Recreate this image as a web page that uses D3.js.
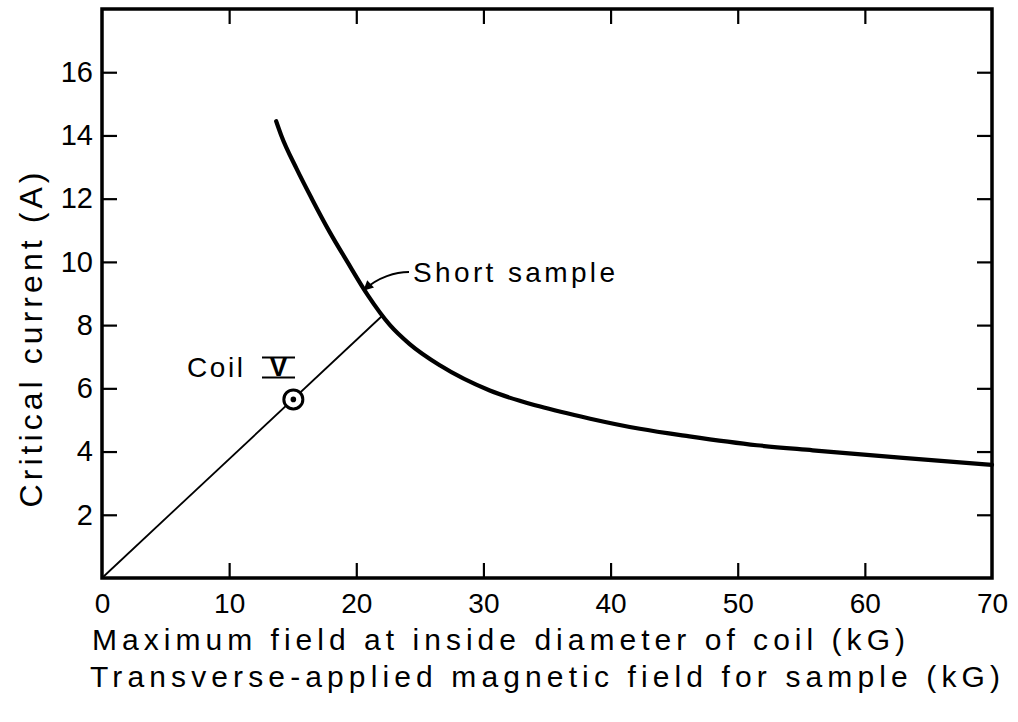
<!DOCTYPE html>
<html>
<head>
<meta charset="utf-8">
<script src="https://cdn.jsdelivr.net/npm/d3@7"></script>
<style>
  html, body { margin: 0; padding: 0; background: #fff; }
  svg { display: block; }
  text { font-family: "Liberation Sans", "DejaVu Sans", sans-serif; fill: #000; }
</style>
</head>
<body>
<svg id="chart" width="1018" height="722"></svg>
<script>
// ---- data ----
const shortSampleField   = [13.7, 14.1, 15.3, 16.5, 17.9, 19.3, 20.9, 22.65, 24.2, 26.6, 30.5, 34.4, 38.4, 42.3, 46.2, 51.5, 55.9, 63.0, 70.0];
const shortSampleCurrent = [14.45, 14.0, 12.95, 12.0, 10.95, 10.0, 8.95, 8.0, 7.4, 6.72, 5.93, 5.43, 5.04, 4.72, 4.48, 4.2, 4.04, 3.8, 3.58];
const loadLineField   = [0, 22.0];
const loadLineCurrent = [0, 8.28];
const coilPointField = [15.05];
const coilPointCurrent = [5.65];
const xTickLabels = [0, 10, 20, 30, 40, 50, 60, 70];
const xTickMarks  = [10, 20, 30, 40, 50, 60];
const yTickLabels = [2, 4, 6, 8, 10, 12, 14, 16];
const xTitle1 = "Maximum field at inside diameter of coil (kG)";
const xTitle2 = "Transverse-applied magnetic field for sample (kG)";
const yTitle = "Critical current (A)";

// ---- layout ----
const L = 102, R = 992, T = 9, B = 578;
const svg = d3.select("#chart");
const x = d3.scaleLinear().domain([0, 70]).range([L, R]);
const y = d3.scaleLinear().domain([0, 18]).range([B, T]);

// ticks (inward) on all four sides
const tickLen = 15;
function styleTicks(g) {
  g.select(".domain").remove();
  g.selectAll(".tick line").attr("stroke", "#000").attr("stroke-width", 2.2);
}
svg.append("g").attr("transform", `translate(0,${B})`)
  .call(d3.axisBottom(x).tickValues(xTickMarks).tickSize(-tickLen).tickFormat(""))
  .call(styleTicks);
svg.append("g").attr("transform", `translate(0,${T})`)
  .call(d3.axisTop(x).tickValues(xTickMarks).tickSize(-tickLen).tickFormat(""))
  .call(styleTicks);
svg.append("g").attr("transform", `translate(${L},0)`)
  .call(d3.axisLeft(y).tickValues(yTickLabels).tickSize(-tickLen).tickFormat(""))
  .call(styleTicks);
svg.append("g").attr("transform", `translate(${R},0)`)
  .call(d3.axisRight(y).tickValues(yTickLabels).tickSize(-tickLen).tickFormat(""))
  .call(styleTicks);

// tick labels
const xl = svg.append("g").attr("transform", `translate(0,${B})`)
  .call(d3.axisBottom(x).tickValues(xTickLabels).tickSize(0).tickPadding(0).tickFormat(d3.format("d")));
xl.select(".domain").remove();
xl.selectAll("text").attr("y", 35).attr("dy", 0)
  .style("font-size", "28px").style("font-family", "Liberation Sans, DejaVu Sans, sans-serif");

const yl = svg.append("g").attr("transform", `translate(${L},0)`)
  .call(d3.axisLeft(y).tickValues(yTickLabels).tickSize(0).tickPadding(9).tickFormat(d3.format("d")));
yl.select(".domain").remove();
yl.selectAll("text").style("font-size", "29px").style("font-family", "Liberation Sans, DejaVu Sans, sans-serif");

// frame
svg.append("rect")
  .attr("x", L).attr("y", T).attr("width", R - L).attr("height", B - T)
  .attr("fill", "none").attr("stroke", "#000").attr("stroke-width", 3.5);

// load line
const line = d3.line().x(d => x(d[0])).y(d => y(d[1]));
svg.append("path")
  .datum(d3.zip(loadLineField, loadLineCurrent))
  .attr("d", line).attr("fill", "none").attr("stroke", "#000").attr("stroke-width", 1.8);

// short sample curve
svg.append("path")
  .datum(d3.zip(shortSampleField, shortSampleCurrent))
  .attr("d", line.curve(d3.curveMonotoneX))
  .attr("fill", "none").attr("stroke", "#000").attr("stroke-width", 4.2).attr("stroke-linecap", "round");

// coil point
const pts = d3.zip(coilPointField, coilPointCurrent);
svg.selectAll(".coil-o").data(pts).join("circle")
  .attr("cx", d => x(d[0])).attr("cy", d => y(d[1])).attr("r", 9.5)
  .attr("fill", "#fff").attr("stroke", "#000").attr("stroke-width", 3);
svg.selectAll(".coil-d").data(pts).join("circle")
  .attr("cx", d => x(d[0])).attr("cy", d => y(d[1])).attr("r", 2.8).attr("fill", "#000");

// annotations
svg.append("text").attr("x", 187).attr("y", 377).attr("textLength", 56).attr("lengthAdjust", "spacing")
  .style("font-size", "28px").text("Coil");
svg.append("text").attr("x", 278.5).attr("y", 376).attr("text-anchor", "middle")
  .style("font-size", "27px").style("font-weight", "bold").text("V");
svg.append("line").attr("x1", 262).attr("x2", 295).attr("y1", 357.5).attr("y2", 357.5).attr("stroke", "#000").attr("stroke-width", 2.2);
svg.append("line").attr("x1", 262).attr("x2", 295).attr("y1", 377.5).attr("y2", 377.5).attr("stroke", "#000").attr("stroke-width", 2.2);

svg.append("text").attr("x", 413).attr("y", 282).attr("textLength", 202).attr("lengthAdjust", "spacing")
  .style("font-size", "28px").text("Short sample");

svg.append("defs").append("marker")
  .attr("id", "arr").attr("viewBox", "0 0 10 10").attr("refX", 9).attr("refY", 5)
  .attr("markerWidth", 14).attr("markerHeight", 10).attr("markerUnits", "userSpaceOnUse")
  .attr("orient", "auto")
  .append("path").attr("d", "M0,0 L10,5 L0,10 Z").attr("fill", "#000");
svg.append("path").attr("d", "M409,272 C396,272 378,277 364,290")
  .attr("fill", "none").attr("stroke", "#000").attr("stroke-width", 2).attr("marker-end", "url(#arr)");

// axis titles
svg.append("text").attr("x", 92).attr("y", 650).attr("textLength", 813).attr("lengthAdjust", "spacing")
  .style("font-size", "30px").text(xTitle1);
svg.append("text").attr("x", 90).attr("y", 687).attr("textLength", 910).attr("lengthAdjust", "spacing")
  .style("font-size", "30px").text(xTitle2);
svg.append("text").attr("transform", "translate(42,340) rotate(-90)")
  .attr("text-anchor", "middle").attr("textLength", 335).attr("lengthAdjust", "spacing")
  .style("font-size", "32px").text(yTitle);
</script>
</body>
</html>
